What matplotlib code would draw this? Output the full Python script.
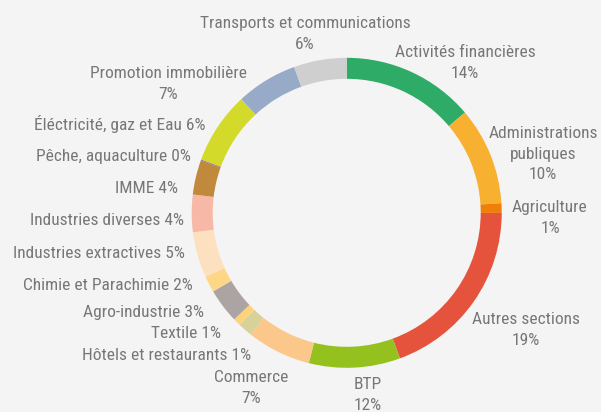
import matplotlib
matplotlib.use("Agg")
import matplotlib.pyplot as plt
from matplotlib import font_manager

# ---- data ----
sectors = ["Activités financières", "Administrations publiques", "Agriculture",
           "Autres sections", "BTP", "Commerce", "Hôtels et restaurants", "Textile",
           "Agro-industrie", "Chimie et Parachimie", "Industries extractives",
           "Industries diverses", "IMME", "Pêche, aquaculture",
           "Éléctricité, gaz et Eau", "Promotion immobilière",
           "Transports et communications"]
slice_values = [13.8, 10.2, 1.0, 19.4, 9.5, 6.7, 1.5, 0.8, 3.6, 1.7, 4.75, 3.9,
                3.6, 0.1, 7.5, 6.4, 5.5]
label_pcts = [14, 10, 1, 19, 12, 7, 1, 1, 3, 2, 5, 4, 4, 0, 6, 7, 6]
label_texts = ["Activités financières\n{}%", "Administrations\npubliques\n{}%",
               "Agriculture\n{}%", "Autres sections\n{}%", "BTP\n{}%",
               "Commerce\n{}%", "Hôtels et restaurants {}%", "Textile {}%",
               "Agro-industrie {}%", "Chimie et Parachimie {}%",
               "Industries extractives {}%", "Industries diverses {}%",
               "IMME {}%", "Pêche, aquaculture {}%", "Éléctricité, gaz et Eau {}%",
               "Promotion immobilière\n{}%", "Transports et communications\n{}%"]

# ---- styles / positions ----
colors = ["#2eab66", "#f7b030", "#f07f08", "#e5533d", "#95c11f", "#fbc78a",
          "#d8d19a", "#fdd27d", "#aba4a2", "#fdd686", "#fde0c0", "#f7b8a8",
          "#c0893c", "#8e6fb0", "#d3da2a", "#97abc8", "#cfcfcf"]
# (x, y in pixels from top, ha)
label_pos = [(465, 63, "center"), (543, 154, "center"), (550, 218, "center"),
             (526, 330, "center"), (368, 395, "center"), (251, 388, "center"),
             (251, 355, "right"), (221, 334, "right"), (204, 313, "right"),
             (193, 285, "right"), (185, 254, "right"), (184, 220, "right"),
             (178, 188, "right"), (191, 156, "right"), (205, 124, "right"),
             (168, 84, "center"), (305, 34, "center")]

names = {f.name for f in font_manager.fontManager.ttflist}
family = "DejaVu Sans"
for cand in ["Liberation Sans Narrow", "Roboto Condensed", "Roboto"]:
    if cand in names:
        family = cand
        break

W, H = 601, 412
bg = "#f4f4f4"
fig = plt.figure(figsize=(W / 100, H / 100), dpi=100, facecolor=bg)
ax = fig.add_axes([0, 0, 1, 1])
ax.set_facecolor(bg)

cx, cy, R, ring = 346.7, H - 212.8, 155, 21
ax.pie(slice_values, colors=colors, startangle=90, counterclock=False,
       radius=R, center=(cx, cy),
       wedgeprops=dict(width=ring, linewidth=0), frame=True)

for txt, p, (x, y, ha) in zip(label_texts, label_pcts, label_pos):
    ax.text(x, H - y, txt.format(p), ha=ha, va="center", family=family,
            fontsize=12.5, color="#777777", linespacing=1.42,
            multialignment="center")

ax.set_xlim(0, W)
ax.set_ylim(0, H)
ax.set_aspect("auto")
ax.axis("off")
fig.savefig("out.png", dpi=100, facecolor=bg)
